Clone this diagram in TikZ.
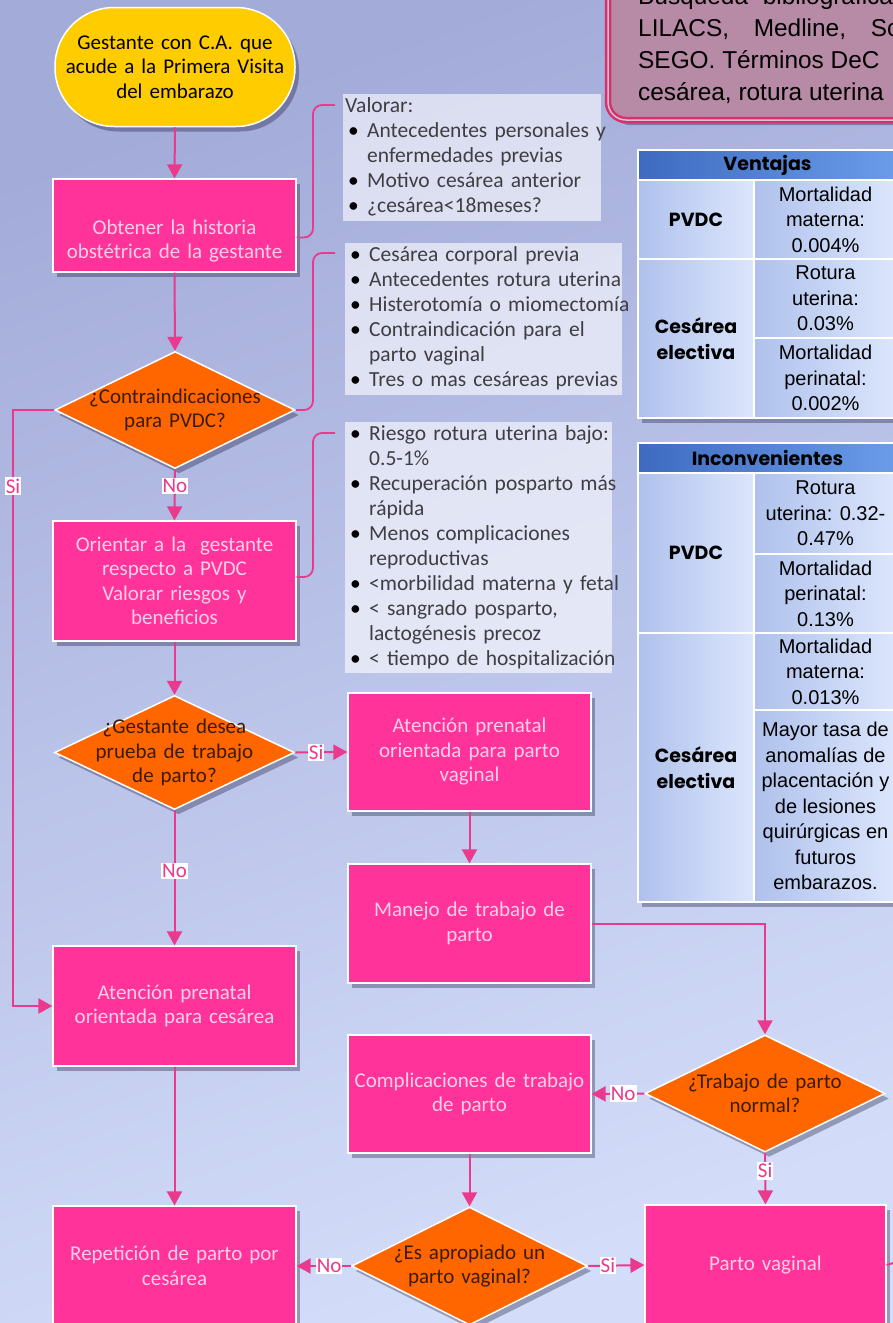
\documentclass[tikz,border=0pt]{standalone}
\usepackage{fontspec}
\setmainfont{Carlito}
\newfontfamily\tabFont{Liberation Sans}
\newfontfamily\headFont{Poppins}
\usetikzlibrary{positioning,shapes.geometric,arrows.meta,shadows}
\definecolor{bgTop}{HTML}{A3ABD9}
\definecolor{bgBot}{HTML}{D3DDF9}
\definecolor{cStart}{HTML}{FFCC00}
\definecolor{cProc}{HTML}{FF3399}
\definecolor{cDec}{HTML}{FF6600}
\definecolor{cLine}{HTML}{EA3A8E}
\definecolor{cProcTxt}{HTML}{FFCFE8}
\definecolor{cDecTxt}{HTML}{3A1C05}
\definecolor{cPanelTxt}{HTML}{3E3E44}
\definecolor{cSrc}{HTML}{B78AA6}
\definecolor{cSrcEdge}{HTML}{D5316F}
\definecolor{cHeadA}{HTML}{3E6BC0}
\definecolor{cHeadB}{HTML}{6A9CEA}
\definecolor{cCellA}{HTML}{AFC1EC}
\definecolor{cCellB}{HTML}{DCE6FC}

\newcommand{\flowFont}{\fontsize{21}{24.5}\selectfont}
\newcommand{\panelFont}{\fontsize{21.5}{25}\selectfont}
\newcommand{\cellFont}{\tabFont\fontsize{20}{25.5}\selectfont}
\newcommand{\bul}[1]{\hangindent=22pt\hangafter=1\noindent\makebox[22pt][l]{\hspace{3pt}\textcolor{black}{\textbullet}}#1\par}

\tikzset{
  dropShade/.style={drop shadow={opacity=0.3, shadow xshift=4pt, shadow yshift=-5pt, fill=black!85!blue}},
  termBox/.style={rectangle, rounded corners=59pt, fill=cStart, draw=white, line width=1.5pt,
    minimum width=240pt, minimum height=119pt, text width=230pt, align=center, inner sep=0pt,
    font=\flowFont, text=black, dropShade},
  procBox/.style={rectangle, fill=cProc, draw=white, line width=1.2pt, minimum width=243pt,
    minimum height=119pt, text width=236pt, align=center, inner sep=0pt, font=\flowFont,
    text=cProcTxt, dropShade},
  decBox/.style={diamond, aspect=2, fill=cDec, draw=white, line width=1.5pt, minimum width=240pt,
    minimum height=117pt, text width=190pt, align=center, inner xsep=-45pt, inner ysep=-32pt,
    font=\flowFont, text=cDecTxt, dropShade},
  yesNo/.style={fill=white, text=cLine, font=\flowFont, inner xsep=1pt, inner ysep=1.5pt},
  flowArrow/.style={draw=cLine, line width=2pt, -{Triangle[width=15pt,length=14pt]}},
  flowLine/.style={draw=cLine, line width=2pt},
  linkBrace/.style={draw=cLine, line width=1.8pt, rounded corners=9pt},
  panelFill/.style={fill=white, fill opacity=0.6},
  panelText/.style={anchor=north west, text width=320pt, align=left, inner xsep=2pt,
    inner ysep=3pt, text=cPanelTxt, font=\panelFont},
  tabHead/.style={rectangle, left color=cHeadA, right color=cHeadB, draw=white, line width=2.5pt,
    inner sep=0pt, font=\headFont\bfseries\fontsize{19}{22}\selectfont, text=black},
  tabCell/.style={rectangle, left color=cCellA, right color=cCellB, draw=white, line width=2.5pt,
    font=\cellFont, align=center, text=black, inner sep=0pt},
  tabSide/.style={tabCell, font=\headFont\bfseries\fontsize{19}{26}\selectfont}
}

\begin{document}
\begin{tikzpicture}[x=1pt,y=-1pt]

\newcommand{\drawCell}[7]{% name, style, x1, y1, x2, y2, text
	\node[#2, minimum width={#5-#3}, minimum height={#6-#4}] (#1) at ({(#3+#5)/2},{(#4+#6)/2}) {#7};
}

\useasboundingbox (0,0) rectangle (893,1323);
\clip (0,0) rectangle (893,1323);
\shade[top color=bgTop, bottom color=bgBot, shading angle=20] (0,0) rectangle (893,1323);

% source box (top right)
\draw[fill=cSrc, draw=cSrcEdge, double=cSrc!55!white, double distance=1.5pt, line width=2.5pt,
  rounded corners=18pt, dropShade] (608,-60) rectangle (940,120);
\foreach \txt [count=\i] in {{Búsqueda\hspace{8pt} bibliográfica},
                             {LILACS,\hspace{18pt} Medline,\hspace{18pt} Sc},
                             {SEGO. Términos DeC},
                             {cesárea, rotura uterina}}{
	\node[anchor=base west, inner sep=0pt, font=\tabFont\fontsize{24.4}{30}\selectfont] (src\i)
	  at (638,{4+32.33*(\i-1)}) {\txt};
}

% table Ventajas
\fill[white, dropShade] (638,150) rectangle (897,418);
\drawCell{vHead}{tabHead}{638}{150}{897}{180}{Ventajas}
\drawCell{vP}{tabSide}{638}{180}{754}{259}{PVDC}
\drawCell{vPa}{tabCell}{754}{180}{897}{259}{Mortalidad\\materna:\\0.004\%}
\drawCell{vC}{tabSide}{638}{259}{754}{418}{Cesárea\\electiva}
\drawCell{vCa}{tabCell}{754}{259}{897}{338}{Rotura\\uterina:\\0.03\%}
\drawCell{vCb}{tabCell}{754}{338}{897}{418}{Mortalidad\\perinatal:\\0.002\%}

% table Inconvenientes
\fill[white, dropShade] (638,443) rectangle (897,902);
\drawCell{iHead}{tabHead}{638}{443}{897}{473}{Inconvenientes}
\drawCell{iP}{tabSide}{638}{473}{754}{633}{PVDC}
\drawCell{iPa}{tabCell}{754}{473}{897}{554}{Rotura\\uterina: 0.32-\\0.47\%}
\drawCell{iPb}{tabCell}{754}{554}{897}{633}{Mortalidad\\perinatal:\\0.13\%}
\drawCell{iC}{tabSide}{638}{633}{754}{902}{Cesárea\\electiva}
\drawCell{iCa}{tabCell}{754}{633}{897}{710}{Mortalidad\\materna:\\0.013\%}
\drawCell{iCb}{tabCell}{754}{710}{897}{902}{Mayor tasa de\\anomalías de\\placentación y\\de lesiones\\quirúrgicas en\\futuros\\embarazos.}

% info panels
\fill[panelFill] (343,94) rectangle (601,221);
\node[panelText] (p1) at (343,94) {Valorar:\par
	\bul{Antecedentes personales y\newline enfermedades previas}
	\bul{Motivo cesárea anterior}
	\bul{¿cesárea<18meses?}};
\fill[panelFill] (345,243) rectangle (622,395);
\node[panelText] (p2) at (345,243) {%
	\bul{Cesárea corporal previa}
	\bul{Antecedentes rotura uterina}
	\bul{Histerotomía o miomectomía}
	\bul{Contraindicación para el\newline parto vaginal}
	\bul{Tres o mas cesáreas previas}};
\fill[panelFill] (345,422) rectangle (612,673);
\node[panelText] (p3) at (345,422) {%
	\bul{Riesgo rotura uterina bajo:\newline 0.5-1\%}
	\bul{Recuperación posparto más\newline rápida}
	\bul{Menos complicaciones\newline reproductivas}
	\bul{<morbilidad materna y fetal}
	\bul{< sangrado posparto,\newline lactogénesis precoz}
	\bul{< tiempo de hospitalización}};

% flowchart
\node[termBox] (start) at (175,67) {Gestante con C.A. que\\acude a la Primera Visita\\del embarazo};
\node[procBox, minimum height=93pt] (hist) at (174.5,225.5) {\rule{0pt}{46pt}Obtener la historia\\obstétrica de la gestante};
\node[decBox] (d1) at (175,410) {¿Contraindicaciones\\para PVDC?};
\node[procBox, minimum height=120pt] (orient) at (174.5,581) {Orientar a la\ \ gestante\\respecto a PVDC\\Valorar riesgos y\\beneficios};
\node[decBox, minimum height=114pt] (d2) at (174.5,752.5) {¿Gestante desea\\prueba de trabajo\\de parto?};
\node[procBox, minimum height=118pt] (vag) at (469.5,752) {Atención prenatal\\orientada para parto\\vaginal};
\node[procBox] (manejo) at (469.5,923.5) {Manejo de trabajo de\\parto};
\node[procBox, minimum height=120pt] (ces) at (174.5,1006) {Atención prenatal\\orientada para cesárea};
\node[decBox] (d3) at (765,1093.5) {¿Trabajo de parto\\normal?};
\node[procBox, minimum height=118pt] (compl) at (469.5,1094) {Complicaciones de trabajo\\de parto};
\node[decBox, minimum width=236pt, minimum height=118pt] (d4) at (469.5,1266) {¿Es apropiado un\\parto vaginal?};
\node[procBox, minimum height=120pt] (rep) at (174.5,1266) {Repetición de parto por\\cesárea};
\node[procBox, minimum width=241pt, minimum height=120pt] (parto) at (765.5,1265) {Parto vaginal};

% connectors
\foreach \a/\b in {start/hist, hist/d1, orient/d2, vag/manejo, compl/d4, ces/rep}{
	\draw[flowArrow] (\a.south) -- (\b.north);
}
\draw[flowArrow] (d1.south) -- node[yesNo, pos=0.33] (lNo1) {No} (orient.north);
\draw[flowArrow] (d2.east) -- node[yesNo, pos=0.4] (lSi2) {Si} (vag.west);
\draw[flowArrow] (d2.south) -- node[yesNo, pos=0.45] (lNo2) {No} (ces.north);
\draw[flowArrow] (manejo.east) -| (d3.north);
\draw[flowArrow] (d3.west) -- node[yesNo, pos=0.4] (lNo3) {No} (compl.east);
\draw[flowArrow] (d3.south) -- node[yesNo, pos=0.35] (lSi3) {Si} (parto.north);
\draw[flowArrow] (d4.west) -- node[yesNo, pos=0.4] (lNo4) {No} (rep.east);
\draw[flowArrow] (d4.east) -- node[yesNo, pos=0.35] (lSi4) {Si} (parto.west);
\coordinate (siBend) at (13,410);
\draw[flowArrow] (d1.west) -- (siBend) |- node[yesNo, pos=0.064] (lSi1) {Si} (ces.west);
\coordinate (partoOut) at (910,1258);
\draw[flowLine] (parto.east) -- (partoOut);

% brackets to panels
\draw[linkBrace] ([yshift=-12pt]hist.east) -| ([xshift=-30pt,yshift=-11pt]p1.north west) -- ([xshift=-8pt,yshift=-11pt]p1.north west);
\draw[linkBrace] (d1.east) -| ([xshift=-32pt,yshift=-10pt]p2.north west) -- ([xshift=-10pt,yshift=-10pt]p2.north west);
\draw[linkBrace] ([yshift=4pt]orient.east) -| ([xshift=-32pt,yshift=-11pt]p3.north west) -- ([xshift=-10pt,yshift=-11pt]p3.north west);

\end{tikzpicture}
\end{document}
